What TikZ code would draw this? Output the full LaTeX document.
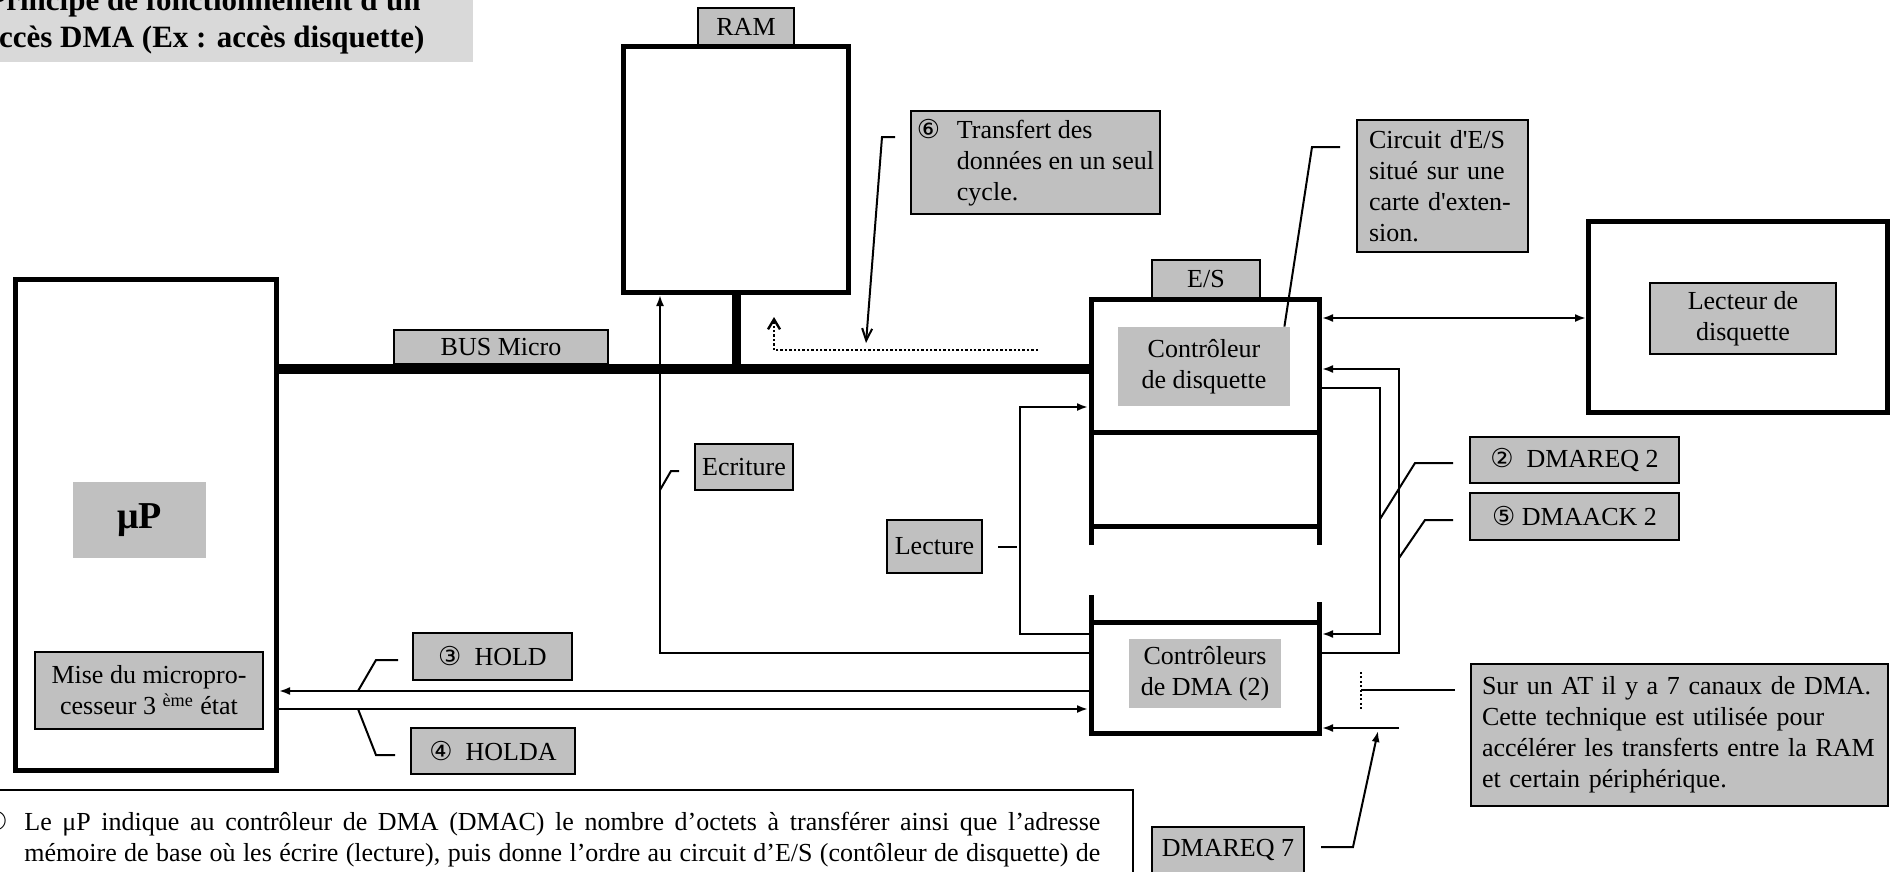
\documentclass[tikz,border=0pt]{standalone}
\usepackage{fontspec}
\setmainfont{Liberation Serif}[Ligatures=TeXOff]
\newfontfamily\circfont{DejaVu Sans}
\usetikzlibrary{arrows.meta}
\definecolor{TagGray}{HTML}{C0C0C0}
\definecolor{TitleGray}{HTML}{D9D9D9}
\newcommand{\cnum}[1]{{\circfont #1}}

\begin{document}
\begin{tikzpicture}[
  x=0.5pt,y=-0.5pt,
  font=\fontsize{13}{15.5}\selectfont,
  >={Latex[length=5.5pt,width=4pt]},
  unit/.style={draw,line width=2.5pt,inner sep=0pt},
  tag/.style={draw,line width=1pt,fill=TagGray,inner sep=0pt,align=center},
  shade/.style={fill=TagGray,inner sep=0pt,align=center},
  frame/.style={line width=2.5pt},
  bus/.style={line width=5pt},
  flow/.style={->,line width=1pt},
  callout/.style={line width=1pt},
  chan/.style={line width=1pt,dash pattern=on 1pt off 1.2pt}
]
  \useasboundingbox (0,0) rectangle (1894,872);
  \clip (0,0) rectangle (1894,872);

  \node[fill=TitleGray,minimum width=269pt,minimum height=41pt,align=center,
    font=\fontsize{15.5}{18.5}\selectfont\bfseries] (title) at (204,21)
    {Principe de fonctionnement d'un\\accès DMA (Ex : accès disquette)};

  \node[tag,minimum width=48pt,minimum height=19pt] (ramtag) at (746,27) {RAM};
  \node[unit,minimum width=112.5pt,minimum height=123pt] (ram) at (736,169.5) {};

  \node[unit,minimum width=130.5pt,minimum height=245.5pt] (mp) at (146,525) {};
  \node[shade,minimum width=66.5pt,minimum height=38pt,
    font=\fontsize{19}{22}\selectfont\bfseries] (mplabel) at (139.5,520) {μP};
  \node[tag,minimum width=114pt,minimum height=38.5pt] (tristate) at (149,690.5)
    {Mise du micropro-\\cesseur 3 \textsuperscript{ème} état};

  \node[tag,minimum width=107pt,minimum height=17pt] (bustag) at (501,347) {BUS Micro};

  \node[tag,minimum width=124.5pt,minimum height=51.5pt,align=left] (step6) at (1035.5,162.5)
    {\makebox[20pt][l]{\cnum{⑥}}Transfert des\\\hspace*{20pt}données en un seul\\\hspace*{20pt}cycle.};
  \node[tag,text width=73.5pt,inner xsep=6pt,minimum height=66pt,align=left] (iobox) at (1442.5,186)
    {Circuit d'E/S\\situé sur une\\carte d'exten-\\sion.};

  \node[tag,minimum width=54pt,minimum height=19.5pt] (estag) at (1206,279.5) {E/S};
  \node[shade,minimum width=86pt,minimum height=39.5pt] (fdc) at (1204,366.5) {Contrôleur\\de disquette};
  \node[shade,minimum width=76pt,minimum height=34.5pt] (dmac) at (1205,673.5) {Contrôleurs\\de DMA (2)};

  \node[unit,minimum width=149.5pt,minimum height=95.5pt] (drive) at (1738,317) {};
  \node[tag,minimum width=93pt,minimum height=35.5pt] (drivetag) at (1743,318.5) {Lecteur de\\disquette};

  \node[tag,minimum width=104.5pt,minimum height=23pt] (req2) at (1574.5,460) {\cnum{②}\enspace DMAREQ 2};
  \node[tag,minimum width=104.5pt,minimum height=23.5pt] (ack2) at (1574.5,516.5) {\cnum{⑤} DMAACK 2};
  \node[tag,minimum width=47.5pt,minimum height=26.5pt] (readtag) at (934.5,546.5) {Lecture};
  \node[tag,minimum width=49pt,minimum height=23pt] (writetag) at (744,467) {Ecriture};
  \node[tag,minimum width=79.5pt,minimum height=23.5pt] (holdtag) at (492.5,656.5) {\cnum{③}\enspace HOLD};
  \node[tag,minimum width=82pt,minimum height=23pt] (holdatag) at (493,751) {\cnum{④}\enspace HOLDA};
  \node[tag,text width=197.5pt,inner xsep=5.5pt,minimum height=71pt,align=left] (atnote) at (1679.5,735)
    {Sur un AT il y a 7 canaux de DMA.\\Cette technique est utilisée pour\\accélérer les transferts entre la RAM\\et certain périphérique.};
  \node[tag,minimum width=76pt,minimum height=23pt] (req7) at (1228,850) {DMAREQ 7};

  \node[draw,line width=0.8pt,minimum width=579pt,minimum height=60pt,inner sep=0pt] (note) at (554,850) {};
  \node[anchor=north west,inner sep=0pt,text width=558pt,align=justify] (notetext) at (-16,811)
    {\makebox[20pt][l]{\cnum{①}}Le μP indique au contrôleur de DMA (DMAC) le nombre d’octets à transférer ainsi que l’adresse\linebreak
     \hspace*{20pt}mémoire de base où les écrire (lecture), puis donne l’ordre au circuit d’E/S (contôleur de disquette) de\linebreak
     \hspace*{20pt}faire le transfert des données en utilisant le contrôleur de DMA tout en libérant le bus de données.};

  \draw[frame] (1091,545) -- (1091,299) -- (1319,299) -- (1319,545);
  \draw[frame] (1091,432) -- (1319,432);
  \draw[frame] (1091,526) -- (1319,526);
  \draw[frame] (1091,595) -- (1091,733) -- (1319,733) -- (1319,602);
  \draw[frame] (1091,622) -- (1319,622);

  \coordinate (busE) at (1091,369);
  \coordinate (esRd) at (1088,407);
  \coordinate (dmaRd) at (1089,634);
  \coordinate (dmaWr) at (1089,653);
  \coordinate (dmaHold) at (1089,691);
  \coordinate (dmaHlda) at (1088,709);
  \coordinate (esDrv) at (1322,318);
  \coordinate (esAck) at (1322,369);
  \coordinate (esReq) at (1322,388);
  \coordinate (dmaReq) at (1322,634);
  \coordinate (dmaAck) at (1322,653);
  \coordinate (dmaCh7) at (1322,728);
  \coordinate (ch7) at (1399,728);
  \coordinate (dotE) at (1038,350);
  \coordinate (xferTip) at (866,343);
  \coordinate (reqTap) at (1380,519);
  \coordinate (ackTap) at (1399,558);
  \coordinate (wrTap) at (660,490);
  \coordinate (holdTap) at (358,691);
  \coordinate (hldaTap) at (358,709);
  \coordinate (chanTop) at (1361,672);
  \coordinate (chanBot) at (1361,710);
  \coordinate (chanTap) at (1361,690);
  \coordinate (ch7Tap) at (1378,731);

  \draw[bus] (mp.east |- busE) -- (busE);
  \draw[bus,line width=4.5pt] (ram.south) -- (ram.south |- busE);
  \draw[flow] (dmaWr) -| ([xshift=-38pt]ram.south);
  \draw[flow] (dmaRd) -- ++(-69,0) |- (esRd);
  \draw[flow] (esReq) -- ++(58,0) |- (dmaReq);
  \draw[flow] (dmaAck) -- ++(77,0) |- (esAck);
  \draw[flow,<->] (esDrv) -- (drive.west |- esDrv);
  \draw[flow] (dmaHold) -- (mp.east |- dmaHold);
  \draw[flow] (mp.east |- dmaHlda) -- (dmaHlda);
  \draw[flow] (ch7) -- (dmaCh7);
  \draw[line width=1.2pt,dash pattern=on 1.2pt off 1pt,-{Straight Barb[length=5pt,width=6pt]}]
    (dotE) -- ++(-264,0) -- ++(0,-33);

  \draw[callout,-{Straight Barb[length=6pt,width=5pt]}] ([xshift=-7.5pt,yshift=12.75pt]step6.west) -- ++(-13,0) -- (xferTip);
  \draw[callout] ([xshift=-8pt,yshift=19.5pt]iobox.west) -- ++(-28,0) -- ([xshift=-3pt]fdc.north east);
  \draw[callout] ([xshift=-8pt,yshift=-1.5pt]req2.west) -- ++(-38,0) -- (reqTap);
  \draw[callout] ([xshift=-8pt,yshift=-1.75pt]ack2.west) -- ++(-28,0) -- (ackTap);
  \draw[callout] ([xshift=7.5pt]readtag.east) -- ++(19,0);
  \draw[callout] ([xshift=-7.5pt,yshift=-2pt]writetag.west) -- ++(-8,0) -- (wrTap);
  \draw[callout] ([xshift=-7pt,yshift=-1.75pt]holdtag.west) -- ++(-22,0) -- (holdTap);
  \draw[callout] ([xshift=-7.5pt,yshift=-2pt]holdatag.west) -- ++(-19,0) -- (hldaTap);
  \draw[callout] ([xshift=-7.5pt,yshift=22.5pt]atnote.west) -- (chanTap);
  \draw[chan] (chanTop) -- (chanBot);
  \draw[callout,->] ([xshift=8pt,yshift=1.5pt]req7.east) -- ++(32,0) -- (ch7Tap);
\end{tikzpicture}
\end{document}
